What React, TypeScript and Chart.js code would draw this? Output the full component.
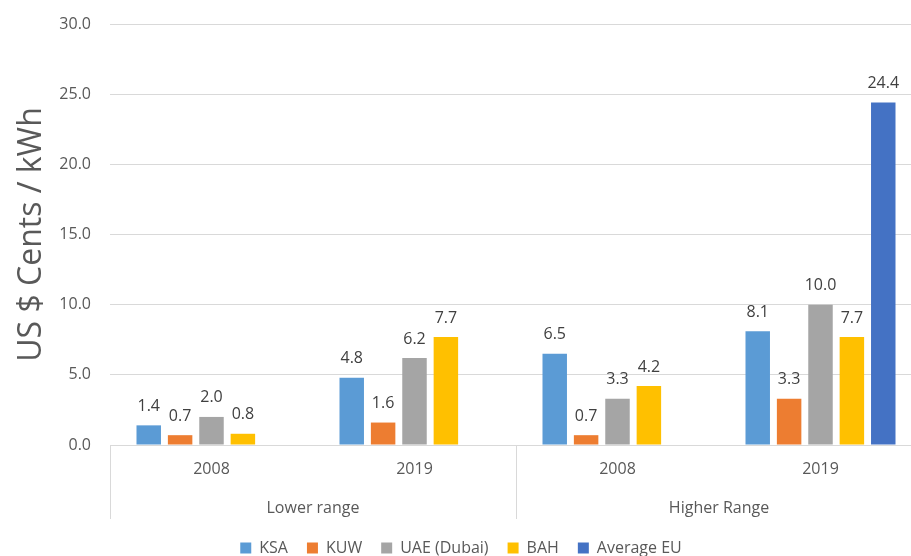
import React, { useEffect, useRef } from "react";
import { Chart, registerables } from "chart.js";

Chart.register(...registerables);

const yearLabels = ["2008", "2019", "2008", "2019"];
const rangeGroups = ["Lower range", "Higher Range"];
const ksa = [1.4, 4.8, 6.5, 8.1];
const kuw = [0.7, 1.6, 0.7, 3.3];
const uae = [2.0, 6.2, 3.3, 10.0];
const bah = [0.8, 7.7, 4.2, 7.7];
const avgEu = [null, null, null, 24.4];
const yTicks = [0, 5, 10, 15, 20, 25, 30];

const FONT = "'Open Sans', sans-serif";
const AXIS_COLOR = "#D9D9D9";
const TEXT_COLOR = "#595959";

const overlayPlugin = {
  id: "overlay",
  afterDatasetsDraw(chart: any) {
    const ctx = chart.ctx;
    ctx.save();
    ctx.font = `16px ${FONT}`;
    ctx.fillStyle = "#404040";
    ctx.textAlign = "center";
    ctx.textBaseline = "middle";
    chart.data.datasets.forEach((ds: any, i: number) => {
      const meta = chart.getDatasetMeta(i);
      meta.data.forEach((el: any, j: number) => {
        const v = ds.data[j];
        if (v === null || v === undefined) return;
        ctx.fillText(Number(v).toFixed(1), el.x, el.y - 19);
      });
    });
    ctx.restore();
  },
  afterDraw(chart: any) {
    const ctx = chart.ctx;
    const xs = chart.scales.x;
    const area = chart.chartArea;
    const n = yearLabels.length;
    const step = xs.getPixelForValue(1) - xs.getPixelForValue(0);
    const bounds = [xs.getPixelForValue(0) - step / 2, xs.getPixelForValue(n / 2) - step / 2, xs.getPixelForValue(n - 1) + step / 2];
    ctx.save();
    ctx.strokeStyle = AXIS_COLOR;
    ctx.lineWidth = 1;
    bounds.forEach((bx) => {
      const px = Math.round(bx) + 0.5;
      ctx.beginPath();
      ctx.moveTo(px, area.bottom);
      ctx.lineTo(px, area.bottom + 74);
      ctx.stroke();
    });
    ctx.font = `16px ${FONT}`;
    ctx.fillStyle = TEXT_COLOR;
    ctx.textAlign = "center";
    ctx.textBaseline = "middle";
    rangeGroups.forEach((g, i) => {
      const cx = (bounds[i] + bounds[i + 1]) / 2;
      ctx.fillText(g, cx, area.bottom + 63);
    });
    ctx.restore();
  },
};

export default function App() {
  const ref = useRef<HTMLCanvasElement | null>(null);
  useEffect(() => {
    if (!ref.current) return;
    const mk = (label: string, data: any[], color: string) => ({
      label,
      data,
      backgroundColor: color,
      borderWidth: 0,
      categoryPercentage: 0.773,
      barPercentage: 0.78,
    });
    const chart = new Chart(ref.current, {
      type: "bar",
      data: {
        labels: yearLabels,
        datasets: [
          mk("KSA", ksa, "#5B9BD5"),
          mk("KUW", kuw, "#ED7D31"),
          mk("UAE (Dubai)", uae, "#A5A5A5"),
          mk("BAH", bah, "#FFC000"),
          mk("Average EU", avgEu, "#4472C4"),
        ],
      },
      options: {
        animation: false,
        responsive: false,
        devicePixelRatio: 1,
        layout: { padding: { top: 24, left: 0, right: 14, bottom: -10 } },
        plugins: {
          tooltip: { enabled: false },
          legend: {
            position: "bottom",
            labels: {
              boxWidth: 11,
              boxHeight: 11,
              padding: 19,
              color: TEXT_COLOR,
              font: { family: FONT, size: 16 },
            },
          },
        },
        scales: {
          x: {
            grid: { display: false, drawTicks: false },
            border: { display: true, color: AXIS_COLOR },
            ticks: { color: TEXT_COLOR, font: { family: FONT, size: 16 }, padding: 15, maxRotation: 0 },
            afterFit: (s: any) => {
              s.height = 76;
            },
          },
          y: {
            min: 0,
            max: 30,
            afterBuildTicks: (s: any) => {
              s.ticks = yTicks.map((v) => ({ value: v }));
            },
            grid: { color: AXIS_COLOR, drawTicks: false },
            border: { display: false },
            ticks: {
              color: TEXT_COLOR,
              font: { family: FONT, size: 16 },
              padding: 19,
              callback: (v: any) => Number(v).toFixed(1),
            },
            title: {
              display: true,
              text: "US $ Cents / kWh",
              color: TEXT_COLOR,
              font: { family: FONT, size: 32 },
              padding: { top: 13, bottom: 0 },
            },
            afterFit: (s: any) => {
              s.width = 110;
              s.paddingTop = 0;
              s.paddingBottom = 0;
            },
          },
        },
      },
      plugins: [overlayPlugin],
    } as any);
    return () => chart.destroy();
  }, []);
  return (
    <div style={{ position: "fixed", left: 0, top: 0, width: 911, height: 556, overflow: "hidden", background: "#fff" }}>
      <canvas ref={ref} width={936} height={556} style={{ display: "block" }} />
    </div>
  );
}
